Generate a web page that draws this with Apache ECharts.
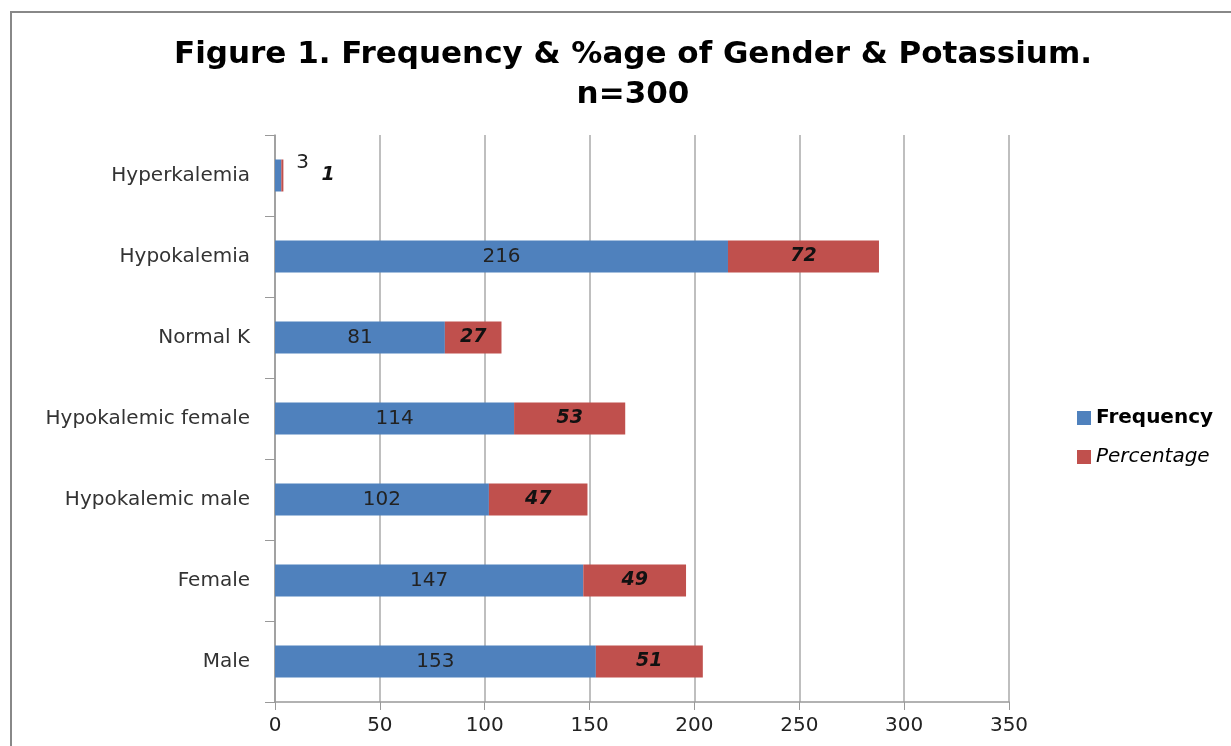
<!DOCTYPE html>
<html><head><meta charset="utf-8">
<script src="https://cdn.jsdelivr.net/npm/echarts@6/dist/echarts.min.js"></script>
<style>html,body{margin:0;padding:0;background:#fff}#c{width:1231px;height:746px}</style>
</head><body><div id="c"></div>
<script>
const categories = ['Male','Female','Hypokalemic male','Hypokalemic female','Normal K','Hypokalemia','Hyperkalemia'];
const frequency = [153,147,102,114,81,216,3];
const percentage = [51,49,47,53,27,72,1];
const xTicks = [0,50,100,150,200,250,300,350];

const FONT = '"DejaVu Sans", sans-serif';
const chart = echarts.init(document.getElementById('c'));
const freqData = frequency.map((v,i)=> i===6 ? {value:v,label:{position:'right',offset:[10,-13]}} : v);
const pctData = percentage.map((v,i)=> i===6 ? {value:v,label:{position:'right',offset:[33,0]}} : v);
chart.setOption({
  animation:false,
  backgroundColor:'#fff',
  graphic:[{type:'rect',shape:{x:11,y:12,width:1240,height:760},style:{fill:'none',stroke:'#888',lineWidth:2},silent:true}],
  title:{text:'Figure 1. Frequency & %age of Gender & Potassium.\nn=300',left:628,textAlign:'center',top:30,
    textStyle:{fontFamily:FONT,fontWeight:'bold',fontSize:31,lineHeight:40,color:'#000'}},
  legend:{orient:'vertical',left:1072,top:403,itemWidth:14,itemHeight:14,itemGap:19,icon:'rect',
    textStyle:{fontFamily:FONT,fontSize:20,color:'#000'},
    data:[{name:'Frequency',textStyle:{fontWeight:'bold'}},{name:'Percentage',textStyle:{fontStyle:'italic'}}]},
  grid:{left:275,right:222,top:135,bottom:44,containLabel:false},
  xAxis:{type:'value',min:0,max:350,interval:50,
    axisLine:{show:true,lineStyle:{color:'#999',width:1.5}},
    axisTick:{show:true,length:8,lineStyle:{color:'#999'}},
    axisLabel:{fontFamily:FONT,fontSize:20,color:'#222',margin:14,formatter:v=>xTicks.includes(v)?String(v):''},
    splitLine:{show:true,lineStyle:{color:'#aaa',width:1.5}}},
  yAxis:{type:'category',data:categories,
    axisLine:{show:true,lineStyle:{color:'#999',width:1.5}},
    axisTick:{show:true,length:10,lineStyle:{color:'#999'}},
    axisLabel:{fontFamily:FONT,fontSize:20,color:'#333',margin:25}},
  series:[
    {name:'Frequency',type:'bar',stack:'a',barWidth:32,data:freqData,itemStyle:{color:'#4F81BD'},
      label:{show:true,position:'inside',fontFamily:FONT,fontSize:20,color:'#222'}},
    {name:'Percentage',type:'bar',stack:'a',barWidth:32,data:pctData,itemStyle:{color:'#C0504D'},
      label:{show:true,position:'inside',fontFamily:FONT,fontSize:19,fontWeight:'bold',fontStyle:'italic',color:'#111'}}
  ]
});
</script></body></html>
